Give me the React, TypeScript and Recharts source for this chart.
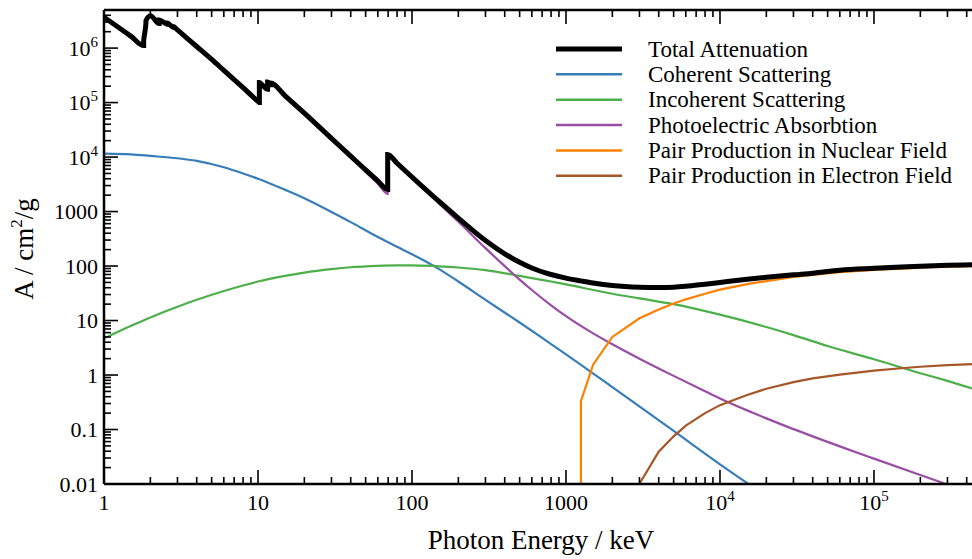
import { Legend, Line, LineChart, ReferenceLine, XAxis, YAxis } from "recharts";

type Pt = [number, number];

// photon energy (keV), attenuation (cm^2/g)
const total: Pt[] = [
  [1, 3.68e6], [1.5, 1.64e6], [1.809, 1.11e6], [1.809, 1.33e6], [1.84, 1.91e6], [1.872, 2.9e6], [1.872, 3.17e6],
  [2, 3.92e6], [2.281, 2.83e6], [2.281, 3.28e6], [2.4235, 3.01e6], [2.575, 2.75e6], [2.575, 2.9e6], [2.82, 2.39e6],
  [2.82, 2.5e6], [3, 2.15e6], [4, 1.07e6], [5, 6.2e5], [6, 3.9e5], [8, 1.88e5], [10, 1.05e5], [10.207, 1.0e5],
  [10.207, 2.33e5], [10.85, 2.0e5], [11.544, 1.75e5], [11.544, 2.38e5], [12.1, 2.12e5], [12.1, 2.28e5], [15, 1.33e5],
  [20, 6.4e4], [30, 2.2e4], [40, 1.04e4], [50, 5.8e3], [60, 3.65e3], [69.525, 2.55e3], [69.525, 1.12e4], [80, 7.7e3],
  [100, 4.3e3], [150, 1.53e3], [200, 760], [300, 295], [400, 168], [500, 117], [600, 92], [800, 70], [1000, 60],
  [1250, 53.5], [1500, 49], [2000, 44], [3000, 41], [4000, 40.5], [5000, 41], [6000, 42.5], [8000, 46.5], [10000, 50],
  [15000, 57], [20000, 62], [30000, 69], [40000, 74], [60000, 84], [100000, 91], [150000, 96], [200000, 99],
  [300000, 103], [433000, 106],
];

const coherent: Pt[] = [
  [1, 11600], [1.5, 11200], [2, 10500], [3, 9500], [4, 8500], [6, 6500], [8, 5000], [10, 4000], [15, 2500],
  [20, 1750], [30, 980], [40, 640], [60, 340], [80, 225], [100, 165], [150, 88], [200, 52], [300, 24], [500, 9.2],
  [800, 3.7], [1000, 2.4], [2000, 0.6], [5000, 0.094], [10000, 0.023], [16000, 0.0092],
];

const incoherent: Pt[] = [
  [1, 4.7], [1.5, 8.0], [2, 11.4], [3, 17.9], [4, 24.0], [6, 34.8], [8, 44], [10, 52], [15, 66], [20, 76], [30, 88],
  [40, 95], [60, 101], [80, 103], [100, 102.5], [150, 99], [200, 94], [300, 84], [500, 66], [800, 52], [1000, 46],
  [2000, 31], [3000, 25.5], [5000, 20], [10000, 12.8], [20000, 7.6], [30000, 5.4], [50000, 3.4], [100000, 1.95],
  [200000, 1.08], [300000, 0.78], [433000, 0.57],
];

const photoelectric: Pt[] = [
  [1, 3.66e6], [1.5, 1.63e6], [1.809, 1.1e6], [1.809, 1.32e6], [1.84, 1.9e6], [1.872, 2.88e6], [1.872, 3.15e6],
  [2, 3.9e6], [2.281, 2.81e6], [2.281, 3.26e6], [2.4235, 2.99e6], [2.575, 2.73e6], [2.575, 2.88e6], [2.82, 2.37e6],
  [2.82, 2.48e6], [3, 2.13e6], [4, 1.06e6], [5, 6.1e5], [6, 3.83e5], [8, 1.84e5], [10, 1.02e5], [10.207, 9.5e4],
  [10.207, 2.28e5], [10.85, 1.95e5], [11.544, 1.7e5], [11.544, 2.33e5], [12.1, 2.08e5], [12.1, 2.24e5], [15, 1.3e5],
  [20, 6.2e4], [30, 2.1e4], [40, 9.8e3], [50, 5.35e3], [60, 3.25e3], [69.525, 2.1e3], [69.525, 1.07e4], [80, 7.3e3],
  [100, 4.0e3], [150, 1.4e3], [200, 650], [300, 213], [400, 99.5], [500, 56.4], [600, 36.3], [800, 19.0], [1000, 12.0],
  [1500, 5.8], [2000, 3.66], [3000, 1.99], [5000, 0.964], [8000, 0.504], [10000, 0.372], [15000, 0.2245],
  [20000, 0.16], [30000, 0.1016], [60000, 0.049], [100000, 0.0292], [200000, 0.0146], [300000, 0.0098],
];

const pairNuclear: Pt[] = [
  [1250, 0.003], [1250, 0.33], [1500, 1.55], [2000, 5.0], [3000, 11], [4000, 16], [5000, 20.5], [6000, 24.5],
  [8000, 31], [10000, 37], [15000, 46.5], [20000, 53], [30000, 63], [40000, 69], [60000, 77], [100000, 85],
  [150000, 90], [200000, 93], [300000, 97], [433000, 100],
];

const pairElectron: Pt[] = [
  [3000, 0.0101], [4000, 0.039], [5000, 0.075], [6000, 0.118], [8000, 0.2], [10000, 0.28], [15000, 0.43],
  [20000, 0.56], [30000, 0.74], [40000, 0.87], [60000, 1.02], [100000, 1.2], [150000, 1.33], [200000, 1.42],
  [300000, 1.52], [433000, 1.59],
];

const seriesNames = [
  "Total Attenuation",
  "Coherent Scattering",
  "Incoherent Scattering",
  "Photoelectric Absorbtion",
  "Pair Production in Nuclear Field",
  "Pair Production in Electron Field",
];
const seriesColors = ["#000000", "#377eb8", "#4daf4a", "#984ea3", "#ff7f00", "#a65628"];

const xMajor = [1, 10, 100, 1000, 10000, 100000];
const xLabelBase = ["1", "10", "100", "1000", "10", "10"];
const xLabelExp = ["", "", "", "", "4", "5"];
const yMajor = [0.01, 0.1, 1, 10, 100, 1000, 10000, 100000, 1000000];
const yLabelBase = ["0.01", "0.1", "1", "10", "100", "1000", "10", "10", "10"];
const yLabelExp = ["", "", "", "", "", "", "4", "5", "6"];
const minorSteps = [2, 3, 4, 5, 6, 7, 8, 9];

const X_DOMAIN: [number, number] = [1, 433000];
const Y_DOMAIN: [number, number] = [0.01, 5e6];

const FONT = "'Liberation Serif', 'Times New Roman', serif";
const W = 972;
const H = 559;
const PLOT_LEFT = 104;
const PLOT_TOP = 10;
const PLOT_BOTTOM = 484;

const withMinors = (majors: number[], max: number) =>
  majors.flatMap((m) => [m, ...minorSteps.map((k) => m * k)]).filter((v) => v <= max * 1.0001);

const xTicks = withMinors(xMajor, X_DOMAIN[1]);
const yTicks = withMinors(yMajor, Y_DOMAIN[1]);

const toRows = (pts: Pt[]) => pts.map(([e, v]) => ({ e, v }));

function TickText({ x, y, base, exp, anchor }: { x: number; y: number; base: string; exp: string; anchor: "middle" | "end" }) {
  return (
    <text x={x} y={y} textAnchor={anchor} fontFamily={FONT} fontSize={22} fill="#000">
      {base}
      {exp ? (
        <tspan dy={-9} fontSize={15}>
          {exp}
        </tspan>
      ) : null}
    </text>
  );
}

// inward ticks on the bottom edge, mirrored on the top edge of the plot
const bottomTick = (props: any) => {
  const x = Number(props.x);
  const y = Number(props.y);
  const i = xMajor.indexOf(props.payload.value);
  const len = i >= 0 ? 14 : 7;
  return (
    <g>
      <path d={`M${x},${y}V${y - len}M${x},${PLOT_TOP}V${PLOT_TOP + len}`} stroke="#000" strokeWidth={1.6} fill="none" />
      {i >= 0 && <TickText x={x} y={y + 26} base={xLabelBase[i]} exp={xLabelExp[i]} anchor="middle" />}
    </g>
  );
};

const leftTick = (props: any) => {
  const x = Number(props.x);
  const y = Number(props.y);
  const i = yMajor.indexOf(props.payload.value);
  const len = i >= 0 ? 14 : 7;
  return (
    <g>
      <path d={`M${x},${y}H${x + len}`} stroke="#000" strokeWidth={1.6} fill="none" />
      {i >= 0 && <TickText x={x - 6} y={y + 7.5} base={yLabelBase[i]} exp={yLabelExp[i]} anchor="end" />}
    </g>
  );
};

const renderLegend = () => (
  <svg width={432} height={170}>
    {seriesNames.map((name, i) => {
      const yy = 19 + i * 25.35;
      return (
        <g key={name}>
          <line x1={16} x2={82} y1={yy} y2={yy} stroke={seriesColors[i]} strokeWidth={i === 0 ? 5 : 2.5} />
          <text x={108} y={yy + 7.5} fontFamily={FONT} fontSize={23} fill="#000">
            {name}
          </text>
        </g>
      );
    })}
  </svg>
);

export default function App() {
  const lines = [
    { data: coherent, color: seriesColors[1], width: 2.2, type: "monotone" },
    { data: incoherent, color: seriesColors[2], width: 2.2, type: "monotone" },
    { data: photoelectric, color: seriesColors[3], width: 2.2, type: "monotone" },
    { data: pairNuclear, color: seriesColors[4], width: 2.2, type: "linear" },
    { data: pairElectron, color: seriesColors[5], width: 2.2, type: "linear" },
    { data: total, color: seriesColors[0], width: 5, type: "monotone" },
  ];

  return (
    <div style={{ position: "absolute", left: 0, top: 0, width: W, height: H, background: "#fff" }}>
      <LineChart width={W} height={H} margin={{ top: PLOT_TOP, right: 0, bottom: 0, left: 0 }}>
        <XAxis
          dataKey="e"
          type="number"
          scale="log"
          domain={X_DOMAIN}
          allowDataOverflow
          ticks={xTicks}
          interval={0}
          tickSize={0}
          tickMargin={0}
          tickLine={false}
          tick={bottomTick}
          height={H - PLOT_BOTTOM}
          axisLine={{ stroke: "#000", strokeWidth: 2.5 }}
          label={{
            content: () => (
              <text x={541} y={549} textAnchor="middle" fontFamily={FONT} fontSize={27} fill="#000">
                Photon Energy / keV
              </text>
            ),
          }}
        />
        <YAxis
          type="number"
          scale="log"
          domain={Y_DOMAIN}
          allowDataOverflow
          ticks={yTicks}
          interval={0}
          tickSize={0}
          tickMargin={0}
          tickLine={false}
          tick={leftTick}
          width={PLOT_LEFT}
          axisLine={{ stroke: "#000", strokeWidth: 2.5 }}
          label={{
            content: () => (
              <text
                transform={`translate(33, ${(PLOT_TOP + PLOT_BOTTOM) / 2 + 2}) rotate(-90)`}
                textAnchor="middle"
                fontFamily={FONT}
                fontSize={27}
                fill="#000"
              >
                A / cm
                <tspan dy={-11} fontSize={17}>
                  2
                </tspan>
                <tspan dy={11}>/g</tspan>
              </text>
            ),
          }}
        />
        <ReferenceLine y={Y_DOMAIN[1]} stroke="#000" strokeWidth={2.5} />
        <Legend
          layout="vertical"
          align="center"
          verticalAlign="middle"
          content={renderLegend}
          wrapperStyle={{ left: 540, top: 30, width: 432, height: 170 }}
        />
        {lines.map((l, i) => (
          <Line
            key={i}
            data={toRows(l.data)}
            dataKey="v"
            type={l.type as any}
            stroke={l.color}
            strokeWidth={l.width}
            dot={false}
            activeDot={false}
            isAnimationActive={false}
          />
        ))}
      </LineChart>
    </div>
  );
}
